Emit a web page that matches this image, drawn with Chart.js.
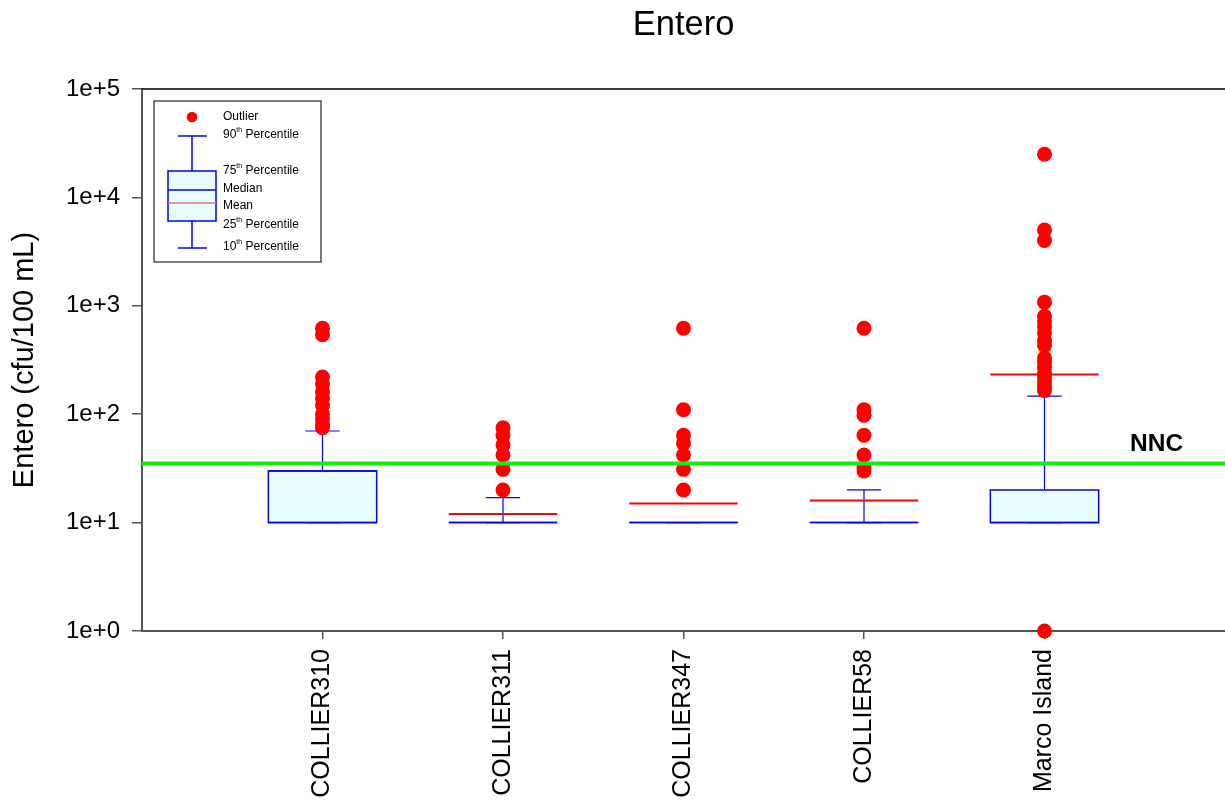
<!DOCTYPE html>
<html>
<head>
<meta charset="utf-8">
<script src="https://cdn.jsdelivr.net/npm/chart.js@4.4.1/dist/chart.umd.min.js"></script>
<style>
  html, body { margin: 0; padding: 0; background: #fff; }
  #wrap { width: 1225px; height: 802px; position: relative; }
</style>
</head>
<body>
<div id="wrap"><canvas id="enteroChart"></canvas></div>
<script>
// data
const categories = ['COLLIER310', 'COLLIER311', 'COLLIER347', 'COLLIER58', 'Marco Island'];
const p10    = [10, 10, 10, 10, 10];
const p25    = [10, 10, 10, 10, 10];
const median = [10, 10, 10, 10, 10];
const p75    = [30, 10, 10, 10, 20];
const p90    = [70, 17, 10, 20, 147];
const means  = [30, 12, 15, 16, 233];
const outliers = [
    [620, 540, 220, 190, 160, 140, 120, 100, 90, 80, 75],
    [75, 64, 52, 42, 31, 20],
    [620, 110, 64, 54, 42, 31, 20],
    [620, 110, 98, 64, 42, 32, 30],
    [25000, 5000, 4000, 1080, 800, 720, 640, 560, 480, 430, 330, 300, 270, 240, 220, 200, 180, 165, 1]
];
const nnc = 35;
const yTicks = [1, 10, 100, 1000, 10000, 100000];
const yTickLabels = ['1e+0', '1e+1', '1e+2', '1e+3', '1e+4', '1e+5'];

const FONT = "'Liberation Sans', Arial, sans-serif";
const BOX_HALF = 0.3;
const CAP_HALF = 0.095;
const BLUE = '#0000ff';
const BOX_FILL = '#e9fefe';

const boxPlugin = {
    id: 'boxes',
    beforeDatasetsDraw(chart) {
        const { ctx, scales: { x, y } } = chart;
        ctx.save();
        categories.forEach((c, i) => {
            const cx = x.getPixelForValue(i + 1);
            const l = x.getPixelForValue(i + 1 - BOX_HALF);
            const r = x.getPixelForValue(i + 1 + BOX_HALF);
            const cl = x.getPixelForValue(i + 1 - CAP_HALF);
            const cr = x.getPixelForValue(i + 1 + CAP_HALF);
            const y10 = y.getPixelForValue(p10[i]);
            const y25 = y.getPixelForValue(p25[i]);
            const y50 = y.getPixelForValue(median[i]);
            const y75 = y.getPixelForValue(p75[i]);
            const y90 = y.getPixelForValue(p90[i]);
            const ym = y.getPixelForValue(means[i]);

            // whiskers
            ctx.strokeStyle = BLUE;
            ctx.lineWidth = 1.2;
            ctx.beginPath();
            ctx.moveTo(cx, y75); ctx.lineTo(cx, y90);
            ctx.moveTo(cl, y90); ctx.lineTo(cr, y90);
            ctx.moveTo(cx, y25); ctx.lineTo(cx, y10);
            ctx.moveTo(cl, y10); ctx.lineTo(cr, y10);
            ctx.stroke();

            // box
            ctx.fillStyle = BOX_FILL;
            ctx.fillRect(l, y75, r - l, y25 - y75);

            // mean
            ctx.strokeStyle = '#ff0000';
            ctx.lineWidth = 2;
            ctx.beginPath();
            ctx.moveTo(l, ym); ctx.lineTo(r, ym);
            ctx.stroke();

            ctx.strokeStyle = BLUE;
            ctx.lineWidth = 1.5;
            ctx.strokeRect(l, y75, r - l, y25 - y75);
            ctx.beginPath();
            ctx.moveTo(l, y50); ctx.lineTo(r, y50);
            ctx.stroke();
        });
        ctx.restore();
    }
};

function supText(ctx, x, y, base, sup, rest) {
    ctx.font = '12px ' + FONT;
    ctx.fillText(base, x, y);
    let w = ctx.measureText(base).width;
    if (sup) {
        ctx.font = '7px ' + FONT;
        ctx.fillText(sup, x + w, y - 5);
        w += ctx.measureText(sup).width;
        ctx.font = '12px ' + FONT;
        ctx.fillText(rest, x + w, y);
    }
}

const decoPlugin = {
    id: 'deco',
    afterDraw(chart) {
        const { ctx, chartArea: a, scales: { y } } = chart;
        ctx.save();

        // top frame line
        ctx.strokeStyle = '#000';
        ctx.lineWidth = 1.5;
        ctx.beginPath();
        ctx.moveTo(a.left, a.top); ctx.lineTo(a.right, a.top);
        ctx.stroke();

        // title
        ctx.fillStyle = '#000';
        ctx.textAlign = 'center';
        ctx.textBaseline = 'middle';
        ctx.font = '34.5px ' + FONT;
        ctx.fillText('Entero', (a.left + a.right) / 2, 25);

        // NNC label
        ctx.textAlign = 'left';
        ctx.font = 'bold 24.5px ' + FONT;
        ctx.fillText('NNC', a.right - 95, y.getPixelForValue(nnc) - 19);

        // key
        const lx = a.left + 12, ly = a.top + 12;
        ctx.fillStyle = '#fff';
        ctx.fillRect(lx, ly, 167, 161);
        ctx.strokeStyle = '#222';
        ctx.lineWidth = 1.2;
        ctx.strokeRect(lx, ly, 167, 161);

        const kx = lx + 38;
        ctx.fillStyle = '#ff0000';
        ctx.beginPath();
        ctx.arc(kx, ly + 16, 5.3, 0, Math.PI * 2);
        ctx.fill();

        ctx.strokeStyle = BLUE;
        ctx.lineWidth = 1.5;
        ctx.beginPath();
        ctx.moveTo(kx - 14, ly + 35); ctx.lineTo(kx + 15, ly + 35);
        ctx.moveTo(kx, ly + 35); ctx.lineTo(kx, ly + 70);
        ctx.moveTo(kx, ly + 120); ctx.lineTo(kx, ly + 147);
        ctx.moveTo(kx - 14, ly + 147); ctx.lineTo(kx + 15, ly + 147);
        ctx.stroke();
        ctx.fillStyle = BOX_FILL;
        ctx.fillRect(kx - 24, ly + 70, 48, 50);
        ctx.strokeRect(kx - 24, ly + 70, 48, 50);
        ctx.beginPath();
        ctx.moveTo(kx - 24, ly + 89); ctx.lineTo(kx + 24, ly + 89);
        ctx.stroke();
        ctx.strokeStyle = '#f07070';
        ctx.beginPath();
        ctx.moveTo(kx - 24, ly + 102); ctx.lineTo(kx + 24, ly + 102);
        ctx.stroke();

        ctx.fillStyle = '#000';
        ctx.textBaseline = 'middle';
        const tx = lx + 69;
        supText(ctx, tx, ly + 16, 'Outlier');
        supText(ctx, tx, ly + 34, '90', 'th', ' Percentile');
        supText(ctx, tx, ly + 70, '75', 'th', ' Percentile');
        supText(ctx, tx, ly + 88, 'Median');
        supText(ctx, tx, ly + 105, 'Mean');
        supText(ctx, tx, ly + 124, '25', 'th', ' Percentile');
        supText(ctx, tx, ly + 146, '10', 'th', ' Percentile');

        ctx.restore();
    }
};

const outlierPoints = categories.flatMap((c, i) => outliers[i].map(v => ({ x: i + 1, y: v })));

new Chart(document.getElementById('enteroChart'), {
    type: 'scatter',
    data: {
        datasets: [
            {
                label: 'NNC',
                type: 'line',
                data: [{ x: 0, y: nnc }, { x: categories.length + 1, y: nnc }],
                borderColor: '#11ee11',
                borderWidth: 4,
                pointRadius: 0,
                order: 0
            },
            {
                label: 'Outlier',
                data: outlierPoints,
                backgroundColor: '#ff0000',
                borderWidth: 0,
                pointRadius: 7.5,
                clip: false,
                order: 1
            }
        ]
    },
    options: {
        responsive: true,
        maintainAspectRatio: false,
        animation: false,
        layout: { autoPadding: false, padding: { top: 89, right: 0, left: 0, bottom: 0 } },
        plugins: { legend: { display: false }, tooltip: { enabled: false } },
        scales: {
            x: {
                type: 'linear',
                min: 0,
                max: categories.length + 1,
                afterBuildTicks: scale => { scale.ticks = categories.map((c, i) => ({ value: i + 1 })); },
                afterFit: scale => {
                    scale.height = 171;
                    scale.paddingLeft = 0;
                    scale.paddingRight = 0;
                },
                ticks: {
                    callback: (v) => categories[v - 1],
                    autoSkip: false,
                    minRotation: 90,
                    maxRotation: 90,
                    padding: 10,
                    color: '#000',
                    font: { size: 25, family: FONT }
                },
                grid: { drawOnChartArea: false, tickLength: 8, color: '#555', lineWidth: 1.5 },
                border: { color: '#555', width: 2 }
            },
            y: {
                type: 'logarithmic',
                min: 1,
                max: 100000,
                afterBuildTicks: scale => { scale.ticks = yTicks.map(v => ({ value: v, major: true })); },
                afterFit: scale => { scale.width = 142; },
                ticks: {
                    callback: (v, i) => yTickLabels[i],
                    padding: 12,
                    color: '#000',
                    font: { size: 24, family: FONT }
                },
                grid: { drawOnChartArea: false, tickLength: 10, color: '#555', lineWidth: 1.5 },
                border: { color: '#555', width: 2 },
                title: {
                    display: true,
                    text: 'Entero (cfu/100 mL)',
                    color: '#000',
                    font: { size: 29, family: FONT },
                    padding: { top: 8, bottom: 0 }
                }
            }
        }
    },
    plugins: [boxPlugin, decoPlugin]
});
</script>
</body>
</html>
